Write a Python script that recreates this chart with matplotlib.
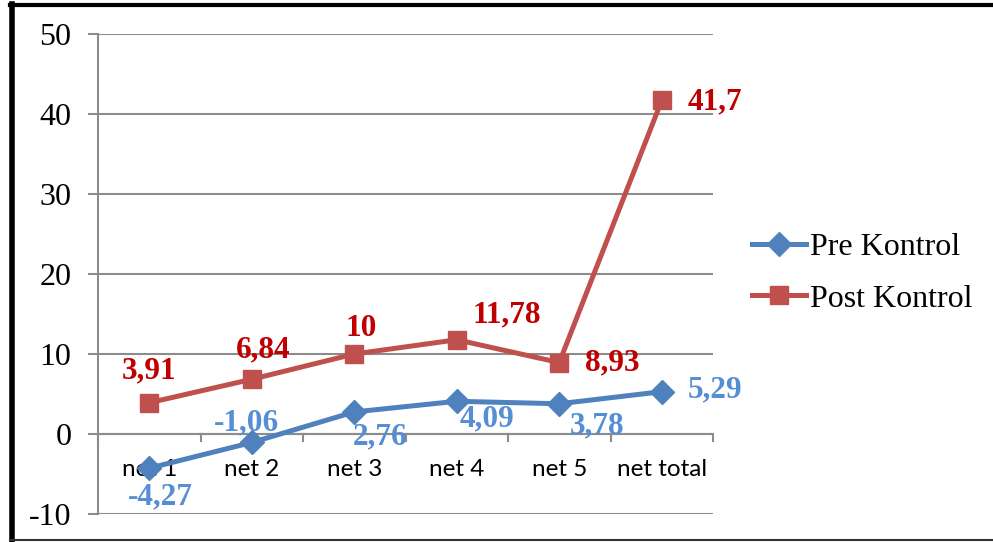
import matplotlib.pyplot as plt
from matplotlib.lines import Line2D

plt.rcParams["axes.unicode_minus"] = False

categorias = ["net 1", "net 2", "net 3", "net 4", "net 5", "net total"]
pre_kontrol = [-4.27, -1.06, 2.76, 4.09, 3.78, 5.29]
post_kontrol = [3.91, 6.84, 10, 11.78, 8.93, 41.7]
pre_rotulos = ["-4,27", "-1,06", "2,76", "4,09", "3,78", "5,29"]
post_rotulos = ["3,91", "6,84", "10", "11,78", "8,93", "41,7"]

# deslocamento dos rotulos (pixels)
pre_offset = [(11, -29), (-5, 20), (26, -25), (30, -18), (38, -22), (53, 2)]
post_offset = [(0, 32), (11, 29), (7, 26), (50, 25), (53, 0), (53, -2)]

azul = "#4F81BD"
vermelho = "#C0504D"
cinza = "#8C8C8C"

fig = plt.figure(figsize=(9.93, 5.42), dpi=100)
ax = fig.add_axes([98 / 993, 1 - 514 / 542, 615 / 993, 480 / 542])

x = list(range(len(categorias)))
ax.plot(x, pre_kontrol, color=azul, lw=3.6, marker="D", ms=12,
        zorder=3, solid_capstyle="round")
ax.plot(x, post_kontrol, color=vermelho, lw=3.6, marker="s", ms=13,
        zorder=3, solid_capstyle="round")

ax.set_xlim(-0.5, len(categorias) - 0.5)
ax.set_ylim(-10, 50)
ax.set_yticks(range(-10, 51, 10))
ax.yaxis.grid(True, color=cinza, lw=1.5)
ax.set_axisbelow(True)

for s in ["top", "right", "bottom"]:
    ax.spines[s].set_visible(False)
ax.spines["left"].set_color(cinza)
ax.spines["left"].set_linewidth(1.5)
ax.axhline(0, color=cinza, lw=1.5, zorder=1)

# marcas de categoria no eixo zero
for b in [i + 0.5 for i in range(-1, len(categorias))]:
    ax.plot([b, b], [0, -0.9], color=cinza, lw=1.5, clip_on=False, zorder=1)

ax.set_xticks([])
ax.tick_params(axis="y", length=7, width=1.5, color=cinza, pad=12,
               labelsize=23)
for t in ax.get_yticklabels():
    t.set_fontfamily("Liberation Serif")

for i, c in enumerate(categorias):
    ax.annotate(c, (i, 0), xytext=(0, -35), textcoords="offset pixels",
                ha="center", va="center", fontsize=17.5, family="Lato",
                zorder=2)

for i in x:
    ax.annotate(pre_rotulos[i], (i, pre_kontrol[i]), xytext=pre_offset[i],
                textcoords="offset pixels", ha="center", va="center",
                fontsize=22.5, fontweight="bold", family="Liberation Serif",
                color="#558ED5", zorder=4)
    ax.annotate(post_rotulos[i], (i, post_kontrol[i]), xytext=post_offset[i],
                textcoords="offset pixels", ha="center", va="center",
                fontsize=22.5, fontweight="bold", family="Liberation Serif",
                color="#C00000", zorder=4)

handles = [
    Line2D([], [], color=azul, lw=3.6, marker="D", ms=12),
    Line2D([], [], color=vermelho, lw=3.6, marker="s", ms=13),
]
fig.legend(handles, ["Pre Kontrol", "Post Kontrol"], loc="center left",
           bbox_to_anchor=(752 / 993, 1 - 273 / 542), frameon=False,
           borderpad=0, borderaxespad=0,
           prop={"family": "Liberation Serif", "size": 23},
           handlelength=1.7, handletextpad=0.12, labelspacing=0.7)

# moldura
fig.add_artist(Line2D([11.5 / 993, 11.5 / 993], [1 - 4 / 542, 1 - 540 / 542],
                      color="black", lw=4, transform=fig.transFigure))
fig.add_artist(Line2D([10 / 993, 993 / 993], [1 - 4.5 / 542, 1 - 4.5 / 542],
                      color="black", lw=3, transform=fig.transFigure))
fig.add_artist(Line2D([10 / 993, 993 / 993], [1 - 540 / 542, 1 - 540 / 542],
                      color="#333333", lw=1.5, transform=fig.transFigure))

fig.savefig("out.png", dpi=100)
